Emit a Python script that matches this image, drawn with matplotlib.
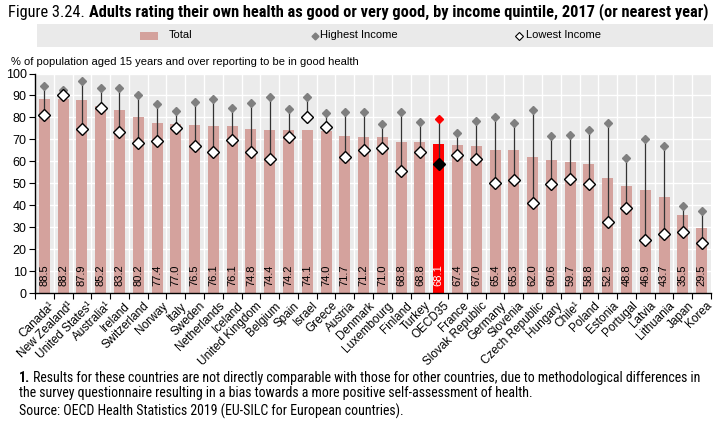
import matplotlib
matplotlib.use("Agg")
import matplotlib.pyplot as plt
from matplotlib import font_manager
from matplotlib.patches import Rectangle
from matplotlib.lines import Line2D

names = {f.name for f in font_manager.fontManager.ttflist}
NARROW = "Liberation Sans Narrow" if "Liberation Sans Narrow" in names else "Liberation Sans"
SANS = "Liberation Sans"
COND = "Roboto Condensed" if "Roboto Condensed" in names else NARROW

countries = ["Canada¹", "New Zealand¹", "United States¹", "Australia¹", "Ireland", "Switzerland",
             "Norway", "Italy", "Sweden", "Netherlands", "Iceland", "United Kingdom", "Belgium",
             "Spain", "Israel", "Greece", "Austria", "Denmark", "Luxembourg", "Finland", "Turkey",
             "OECD35", "France", "Slovak Republic", "Germany", "Slovenia", "Czech Republic",
             "Hungary", "Chile¹", "Poland", "Estonia", "Portugal", "Latvia", "Lithuania",
             "Japan", "Korea"]
total = [88.5, 88.2, 87.9, 85.2, 83.2, 80.2, 77.4, 77.0, 76.5, 76.1, 76.1, 74.8, 74.4, 74.2,
         74.1, 74.0, 71.7, 71.2, 71.0, 68.8, 68.8, 68.1, 67.4, 67.0, 65.4, 65.3, 62.0, 60.6,
         59.7, 58.8, 52.5, 48.8, 46.9, 43.7, 35.5, 29.5]
highest = [94.5, 92.4, 96.5, 93.3, 93.6, 90.0, 86.2, 83.0, 87.2, 88.3, 84.5, 86.8, 89.1, 83.7,
           89.1, 82.1, 82.7, 82.4, 77.2, 82.5, 77.8, 79.5, 72.9, 78.4, 80.1, 77.5, 83.3, 71.4,
           71.9, 74.2, 77.5, 61.6, 70.2, 67.0, 39.5, 37.5]
lowest = [81.3, 90.1, 74.8, 84.2, 73.4, 68.2, 69.5, 75.2, 67.2, 64.3, 69.9, 64.4, 61.1, 71.3,
          80.2, 75.5, 62.0, 65.0, 66.3, 55.8, 64.4, 59.0, 62.9, 61.2, 50.0, 51.5, 41.2, 49.7,
          52.1, 49.7, 32.5, 38.8, 24.3, 26.9, 28.0, 23.1]
yticks = list(range(0, 101, 10))

BAR = "#D4A29D"
HI = "#7F7F7F"
RED = "#FF0000"

fig = plt.figure(figsize=(7.2, 4.3), dpi=100)
ax = fig.add_axes([35/720, 1-293.3/430, 676/720, (293.3-73.5)/430])
ax.set_facecolor("#EBEBEB")
n = len(countries)
xs = list(range(n))
for i in xs:
    oecd = countries[i] == "OECD35"
    ax.bar(i, total[i], width=0.58, color=RED if oecd else BAR, zorder=2)
    ax.plot([i, i], [lowest[i], highest[i]], color="#333333", lw=0.9, zorder=3)
    ax.plot(i, highest[i], marker="D", ms=4.5, color=RED if oecd else HI, mec=RED if oecd else HI, zorder=4)
    ax.plot(i, lowest[i], marker="D", ms=6, mfc="black" if oecd else "white", mec="black", mew=1.0, zorder=5)
    ax.text(i, 3.5, f"{total[i]:.1f}", rotation=90, ha="center", va="bottom", fontsize=8,
            family=SANS, color="white" if oecd else "black", zorder=6)

ax.set_xlim(-0.5, n - 0.5)
ax.set_ylim(0, 100)
ax.set_yticks(yticks)
ax.set_yticklabels([str(v) for v in yticks], fontsize=9, family=SANS)
for v in yticks:
    ax.axhline(v, color="white", lw=1.0, zorder=1)
for i in range(n - 1):
    ax.axvline(i + 0.5, color="white", lw=1.0, zorder=1)
ax.set_xticks([i + 0.5 for i in range(-1, n)], minor=False)
ax.set_xticklabels([])
ax.tick_params(axis="x", length=4, width=0.8, color="black")
ax.tick_params(axis="y", length=4, width=0.8, color="black", pad=2)
for i, c in enumerate(countries):
    ax.text(i + 0.25, -3, c, rotation=45, ha="right", va="top", fontsize=8.5, family=SANS,
            rotation_mode="anchor", transform=ax.transData)
for s in ["top", "right"]:
    ax.spines[s].set_visible(False)
ax.spines["left"].set_linewidth(1.0)
ax.spines["bottom"].set_linewidth(1.0)

fig.canvas.draw()
r = fig.canvas.get_renderer()

# Title
t1 = fig.text(8/720, 1-12/430, "Figure 3.24. ", fontsize=11.8, family=COND, va="center", ha="left")
bb = t1.get_window_extent(r)
fig.text(bb.x1/720, 1-12/430, "Adults rating their own health as good or very good, by income quintile, 2017 (or nearest year)",
         fontsize=11.8, family=COND, weight="bold", va="center", ha="left")

# Legend box
fig.add_artist(Rectangle((37/720, 1-47/430), 676/720, 23/430, transform=fig.transFigure,
                         facecolor="#EAEAEA", edgecolor="none"))
ly = 1-35.5/430
fig.add_artist(Rectangle((140/720, ly-4/430), 18/720, 8/430, transform=fig.transFigure,
                         facecolor=BAR, edgecolor="none"))
fig.text(169/720, ly, "Total", fontsize=8, family=NARROW, va="center")
fig.add_artist(Line2D([315/720], [ly], marker="D", ms=3.5, color=HI, transform=fig.transFigure))
fig.text(320/720, ly, "Highest Income", fontsize=8, family=NARROW, va="center")
fig.add_artist(Line2D([519/720], [ly], marker="D", ms=4.5, mfc="white", mec="black", mew=0.8,
                      transform=fig.transFigure))
fig.text(526/720, ly, "Lowest Income", fontsize=8, family=NARROW, va="center")

fig.text(11/720, 1-62/430, "% of population aged 15 years and over reporting to be in good health",
         fontsize=8, family=NARROW, va="center")

# Footnotes
f1 = fig.text(19/720, 1-378/430, "1.", fontsize=10, family=COND, weight="bold", va="center")
b1 = f1.get_window_extent(r)
fig.text(b1.x1/720 + 3/720, 1-378/430,
         "Results for these countries are not directly comparable with those for other countries, due to methodological differences in",
         fontsize=10, family=COND, va="center")
fig.text(19/720, 1-393/430, "the survey questionnaire resulting in a bias towards a more positive self-assessment of health.",
         fontsize=10, family=COND, va="center")
fig.text(19/720, 1-411/430, "Source: OECD Health Statistics 2019 (EU-SILC for European countries).",
         fontsize=10, family=COND, va="center")

fig.savefig("out.png", dpi=100)
